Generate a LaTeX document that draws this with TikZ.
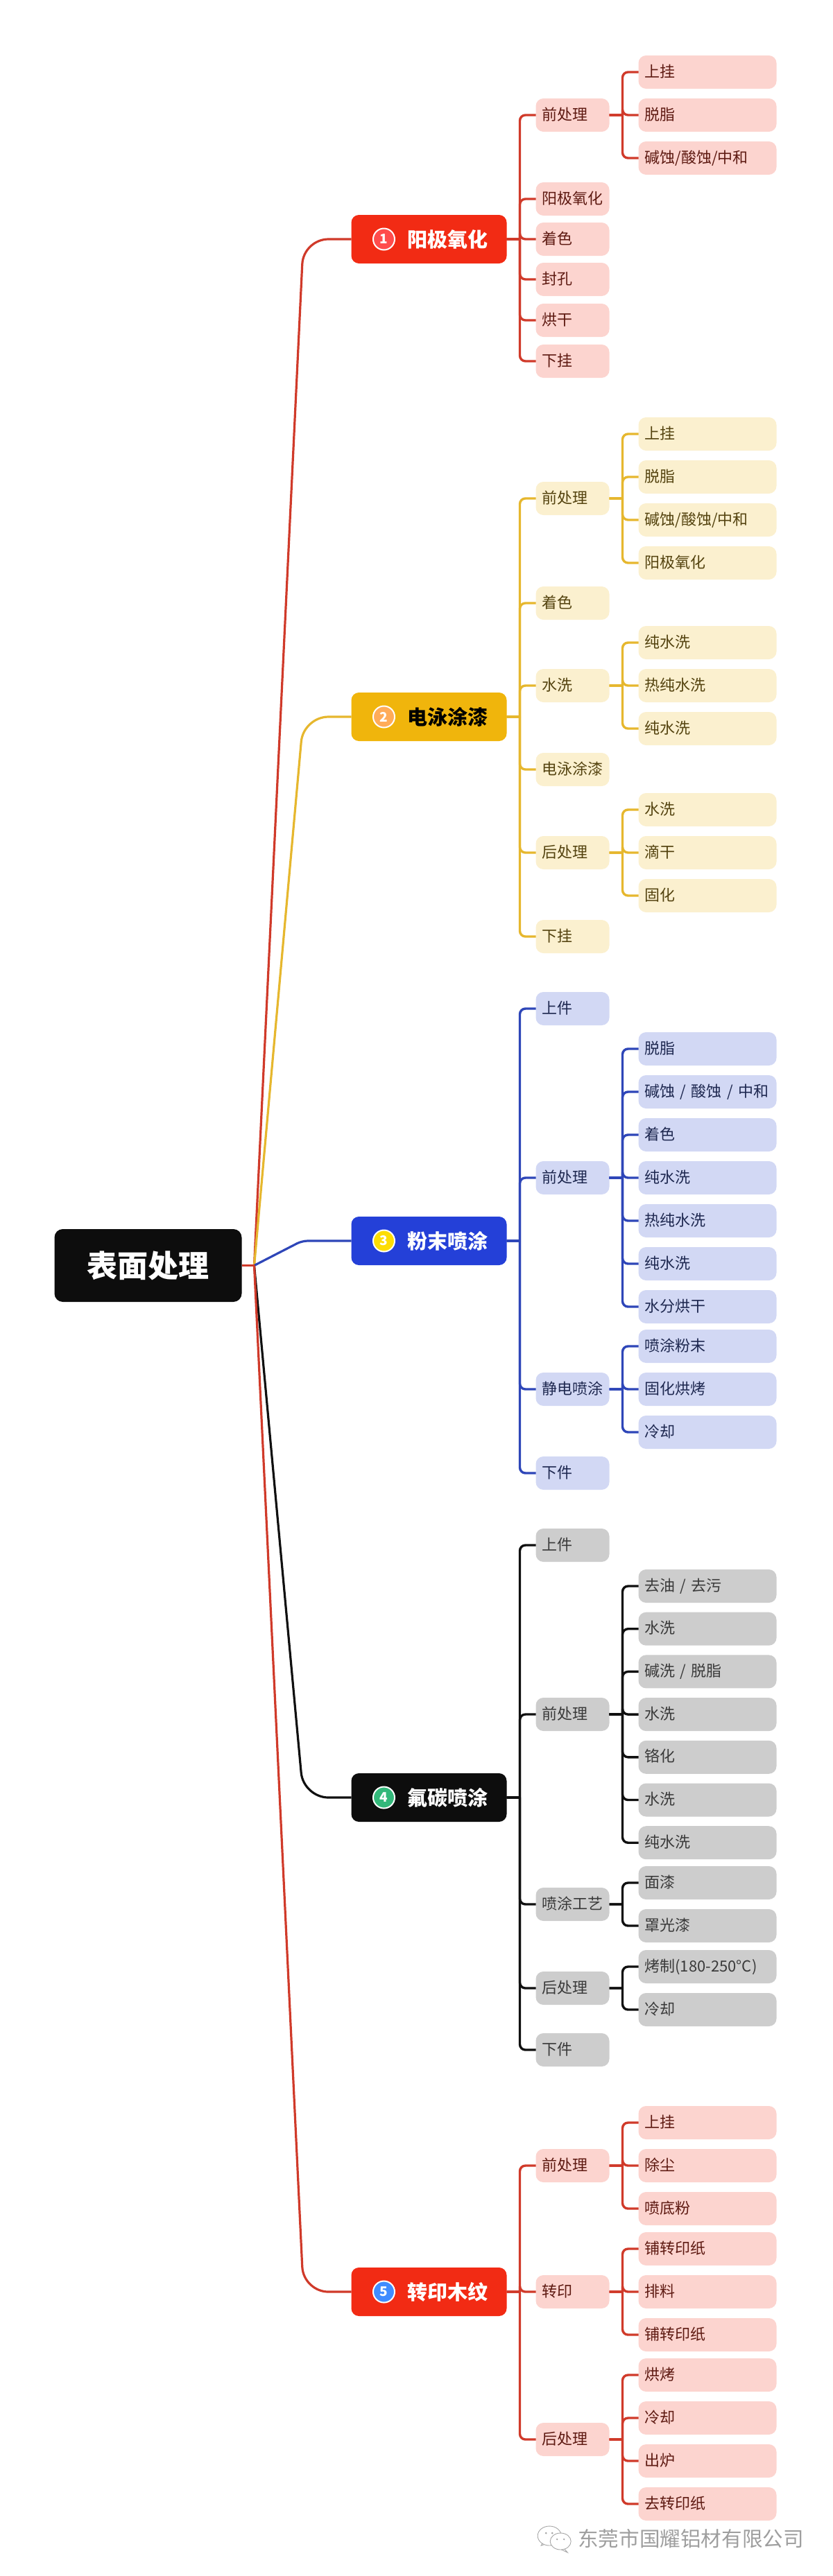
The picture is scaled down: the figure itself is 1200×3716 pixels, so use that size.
\documentclass[tikz,border=0pt]{standalone}
\usepackage{fontspec}
\usepackage{xcolor}
\usepackage{tikz}
\usetikzlibrary{positioning}
\setmainfont{Noto Sans CJK SC}

\definecolor{lineR}{HTML}{D03A2A}
\definecolor{lineY}{HTML}{E6B72E}
\definecolor{lineB}{HTML}{2E46B8}
\definecolor{lineK}{HTML}{101010}
\definecolor{headR}{HTML}{F22B14}
\definecolor{headY}{HTML}{F0B50C}
\definecolor{headB}{HTML}{2440D8}
\definecolor{headK}{HTML}{0D0D0D}
\definecolor{fillR}{HTML}{FCD4CF}
\definecolor{fillY}{HTML}{FBF0CF}
\definecolor{fillB}{HTML}{D2D8F4}
\definecolor{fillK}{HTML}{CDCDCD}
\definecolor{inkR}{HTML}{5E1A12}
\definecolor{inkY}{HTML}{54430F}
\definecolor{inkB}{HTML}{1E2850}
\definecolor{inkK}{HTML}{3A3A3A}

\begin{document}
\begin{tikzpicture}[
    x=1pt, y=1pt,
    rootbox/.style={rectangle, rounded corners=12pt, fill=headK, text=white, outer sep=0pt,
                    minimum width=270pt, minimum height=105pt, align=center, inner sep=0pt,
                    text height=39pt, text depth=5pt,
                    font=\fontsize{44pt}{50pt}\selectfont\bfseries},
    headbox/.style={rectangle, rounded corners=11pt, outer sep=0pt, inner xsep=27pt, inner ysep=0pt,
                    minimum width=224pt, minimum height=70pt, text width=170pt, align=right,
                    text height=25.5pt, text depth=3.5pt,
                    font=\fontsize{29pt}{34pt}\selectfont\bfseries},
    badge/.style={circle, draw=white, line width=2pt, minimum size=31pt, inner sep=0pt, outer sep=0pt,
                  text=white, font=\fontsize{19pt}{22pt}\selectfont\bfseries},
    procbox/.style={rectangle, rounded corners=11pt, outer sep=0pt, inner xsep=9pt, inner ysep=0pt,
                    minimum width=106pt, minimum height=48pt, text width=88pt, align=left,
                    text height=18pt, text depth=4pt,
                    font=\fontsize{22pt}{26pt}\selectfont},
    stagebox/.style={procbox, minimum width=199pt, text width=181pt},
    toneR/.style={fill=fillR, text=inkR},
    toneY/.style={fill=fillY, text=inkY},
    toneB/.style={fill=fillB, text=inkB},
    toneK/.style={fill=fillK, text=inkK},
    wire/.style={line width=3.4pt, rounded corners=8pt,
                 to path={-- ++(19pt,0) ++(0,0) |- (\tikztotarget)}},
    trunk/.style={line width=3.2pt, rounded corners=36pt},
    markbox/.style={text=black!38, inner sep=0pt, outer sep=0pt, text height=26pt, text depth=4pt,
                    font=\fontsize{29.6pt}{34pt}\selectfont},
]
    \useasboundingbox (0,0) rectangle (1200,-3716);

    % Root
    \node[rootbox] (root) at (213.5,-1825.5) {表面处理};
    \coordinate[right=18pt of root] (hub);

    % Section 1
    \node[headbox, fill=headR, text=white, right=158pt of root, yshift=1480.5pt] (br1) {阳极氧化};
    \node[badge, fill=red!70!white, right=31.5pt of br1.west] (num1) {1};
    \node[procbox, toneR, right=42pt of br1, yshift=179pt] (pre1) {前处理};
    \node[procbox, toneR, below=73pt of pre1] (ano1) {阳极氧化};
    \node[procbox, toneR, below=10pt of ano1] (dye1) {着色};
    \node[procbox, toneR, below=10pt of dye1] (seal1) {封孔};
    \node[procbox, toneR, below=11pt of seal1] (dry1) {烘干};
    \node[procbox, toneR, below=11pt of dry1] (off1) {下挂};
    \node[stagebox, toneR, right=42pt of pre1, yshift=62pt] (hang1) {上挂};
    \node[stagebox, toneR, below=14pt of hang1] (degr1) {脱脂};
    \node[stagebox, toneR, below=14pt of degr1] (etch1) {碱蚀/酸蚀/中和};

    % Section 2
    \node[headbox, fill=headY, text=black, right=158pt of root, yshift=791.5pt] (br2) {电泳涂漆};
    \node[badge, fill=orange!65!white, right=31.5pt of br2.west] (num2) {2};
    \node[procbox, toneY, right=42pt of br2, yshift=315pt] (pre2) {前处理};
    \node[procbox, toneY, below=103pt of pre2] (dye2) {着色};
    \node[procbox, toneY, below=71pt of dye2] (wash2) {水洗};
    \node[procbox, toneY, below=73pt of wash2] (coat2) {电泳涂漆};
    \node[procbox, toneY, below=72pt of coat2] (post2) {后处理};
    \node[procbox, toneY, below=73pt of post2] (off2) {下挂};
    \node[stagebox, toneY, right=42pt of pre2, yshift=93pt] (hang2) {上挂};
    \node[stagebox, toneY, below=14pt of hang2] (degr2) {脱脂};
    \node[stagebox, toneY, below=14pt of degr2] (etch2) {碱蚀/酸蚀/中和};
    \node[stagebox, toneY, below=14pt of etch2] (ano2) {阳极氧化};
    \node[stagebox, toneY, right=42pt of wash2, yshift=62pt] (pura2) {纯水洗};
    \node[stagebox, toneY, below=14pt of pura2] (hot2) {热纯水洗};
    \node[stagebox, toneY, below=14pt of hot2] (purb2) {纯水洗};
    \node[stagebox, toneY, right=42pt of post2, yshift=62pt] (rins2) {水洗};
    \node[stagebox, toneY, below=14pt of rins2] (drip2) {滴干};
    \node[stagebox, toneY, below=14pt of drip2] (cure2) {固化};

    % Section 3
    \node[headbox, fill=headB, text=white, right=158pt of root, yshift=35.5pt] (br3) {粉末喷涂};
    \node[badge, fill=yellow!80!orange, right=31.5pt of br3.west] (num3) {3};
    \node[procbox, toneB, right=42pt of br3, yshift=335pt] (on3) {上件};
    \node[procbox, toneB, below=196pt of on3] (pre3) {前处理};
    \node[procbox, toneB, below=257pt of pre3] (spray3) {静电喷涂};
    \node[procbox, toneB, below=73pt of spray3] (off3) {下件};
    \node[stagebox, toneB, right=42pt of pre3, yshift=186pt] (degr3) {脱脂};
    \node[stagebox, toneB, below=14pt of degr3] (etch3) {碱蚀~/~酸蚀~/~中和};
    \node[stagebox, toneB, below=14pt of etch3] (dye3) {着色};
    \node[stagebox, toneB, below=14pt of dye3] (pura3) {纯水洗};
    \node[stagebox, toneB, below=14pt of pura3] (hot3) {热纯水洗};
    \node[stagebox, toneB, below=14pt of hot3] (purb3) {纯水洗};
    \node[stagebox, toneB, below=14pt of purb3] (dry3) {水分烘干};
    \node[stagebox, toneB, right=42pt of spray3, yshift=62pt] (pow3) {喷涂粉末};
    \node[stagebox, toneB, below=14pt of pow3] (cure3) {固化烘烤};
    \node[stagebox, toneB, below=14pt of cure3] (cool3) {冷却};

    % Section 4
    \node[headbox, fill=headK, text=white, right=158pt of root, yshift=-767.5pt] (br4) {氟碳喷涂};
    \node[badge, fill=teal!70!green!80!white, right=31.5pt of br4.west] (num4) {4};
    \node[procbox, toneK, right=42pt of br4, yshift=364pt] (on4) {上件};
    \node[procbox, toneK, below=196pt of on4] (pre4) {前处理};
    \node[procbox, toneK, below=226pt of pre4] (spray4) {喷涂工艺};
    \node[procbox, toneK, below=73pt of spray4] (post4) {后处理};
    \node[procbox, toneK, below=41pt of post4] (off4) {下件};
    \node[stagebox, toneK, right=42pt of pre4, yshift=185pt] (oil4) {去油~/~去污};
    \node[stagebox, toneK, below=13.7pt of oil4] (wasa4) {水洗};
    \node[stagebox, toneK, below=13.7pt of wasa4] (alk4) {碱洗~/~脱脂};
    \node[stagebox, toneK, below=13.7pt of alk4] (wasb4) {水洗};
    \node[stagebox, toneK, below=13.7pt of wasb4] (chr4) {铬化};
    \node[stagebox, toneK, below=13.7pt of chr4] (wasc4) {水洗};
    \node[stagebox, toneK, below=13.7pt of wasc4] (pure4) {纯水洗};
    \node[stagebox, toneK, right=42pt of spray4, yshift=31pt] (top4) {面漆};
    \node[stagebox, toneK, below=14pt of top4] (gloss4) {罩光漆};
    \node[stagebox, toneK, right=42pt of post4, yshift=31pt] (bake4) {烤制(180-250°C)};
    \node[stagebox, toneK, below=14pt of bake4] (cool4) {冷却};

    % Section 5
    \node[headbox, fill=headR, text=white, right=158pt of root, yshift=-1480.5pt] (br5) {转印木纹};
    \node[badge, fill=blue!60!cyan!75!white, right=31.5pt of br5.west] (num5) {5};
    \node[procbox, toneR, right=42pt of br5, yshift=182pt] (pre5) {前处理};
    \node[procbox, toneR, below=134pt of pre5] (print5) {转印};
    \node[procbox, toneR, below=165pt of print5] (post5) {后处理};
    \node[stagebox, toneR, right=42pt of pre5, yshift=62pt] (hang5) {上挂};
    \node[stagebox, toneR, below=14pt of hang5] (dust5) {除尘};
    \node[stagebox, toneR, below=14pt of dust5] (prim5) {喷底粉};
    \node[stagebox, toneR, right=42pt of print5, yshift=62pt] (lay5) {铺转印纸};
    \node[stagebox, toneR, below=14pt of lay5] (sort5) {排料};
    \node[stagebox, toneR, below=14pt of sort5] (wrap5) {铺转印纸};
    \node[stagebox, toneR, right=42pt of post5, yshift=93pt] (bake5) {烘烤};
    \node[stagebox, toneR, below=14pt of bake5] (cool5) {冷却};
    \node[stagebox, toneR, below=14pt of cool5] (oven5) {出炉};
    \node[stagebox, toneR, below=14pt of oven5] (peel5) {去转印纸};

    % Watermark
    \node[markbox, below=11pt of peel5, xshift=-24pt] (mark) {东莞市国耀铝材有限公司};
    \coordinate[left=34pt of mark] (icon);
    \begin{scope}[shift={(icon)}, draw=black!35, line width=0.9pt, fill=white]
        \filldraw (-6,14) -- (-19,-10) -- (-10,-7) -- cycle;
        \filldraw (-7,4) ellipse (17pt and 14pt);
        \filldraw (13,-13) -- (19,-20) -- (6,-14) -- cycle;
        \filldraw (9,-4) ellipse (15pt and 12pt);
        \fill[black!35] (-12,8) circle (1.5pt) (-3,8) circle (1.5pt) (4,-1) circle (1.3pt) (14,-1) circle (1.3pt);
    \end{scope}

    % Trunks
    \draw[trunk, lineR] (hub) -- ([xshift=-69pt]br1.west) -- (br1.west);
    \draw[trunk, lineY] (hub) -- ([xshift=-69pt]br2.west) -- (br2.west);
    \draw[trunk, lineB, rounded corners=8pt] (hub) -- ([xshift=-71pt]br3.west) -- (br3.west);
    \draw[trunk, lineK] (hub) -- ([xshift=-69pt]br4.west) -- (br4.west);
    \draw[trunk, lineR] (hub) -- ([xshift=-69pt]br5.west) -- (br5.west);
    \draw[line width=3.4pt, lineR] (root) -- (hub);

    % Links of section 1
    \draw[wire, lineR] (br1.east) to (pre1.west);
    \draw[wire, lineR] (br1.east) to (ano1.west);
    \draw[wire, lineR] (br1.east) to (dye1.west);
    \draw[wire, lineR] (br1.east) to (seal1.west);
    \draw[wire, lineR] (br1.east) to (dry1.west);
    \draw[wire, lineR] (br1.east) to (off1.west);
    \draw[wire, lineR] (pre1.east) to (hang1.west);
    \draw[wire, lineR] (pre1.east) to (degr1.west);
    \draw[wire, lineR] (pre1.east) to (etch1.west);

    % Links of section 2
    \draw[wire, lineY] (br2.east) to (pre2.west);
    \draw[wire, lineY] (br2.east) to (dye2.west);
    \draw[wire, lineY] (br2.east) to (wash2.west);
    \draw[wire, lineY] (br2.east) to (coat2.west);
    \draw[wire, lineY] (br2.east) to (post2.west);
    \draw[wire, lineY] (br2.east) to (off2.west);
    \draw[wire, lineY] (pre2.east) to (hang2.west);
    \draw[wire, lineY] (pre2.east) to (degr2.west);
    \draw[wire, lineY] (pre2.east) to (etch2.west);
    \draw[wire, lineY] (pre2.east) to (ano2.west);
    \draw[wire, lineY] (wash2.east) to (pura2.west);
    \draw[wire, lineY] (wash2.east) to (hot2.west);
    \draw[wire, lineY] (wash2.east) to (purb2.west);
    \draw[wire, lineY] (post2.east) to (rins2.west);
    \draw[wire, lineY] (post2.east) to (drip2.west);
    \draw[wire, lineY] (post2.east) to (cure2.west);

    % Links of section 3
    \draw[wire, lineB] (br3.east) to (on3.west);
    \draw[wire, lineB] (br3.east) to (pre3.west);
    \draw[wire, lineB] (br3.east) to (spray3.west);
    \draw[wire, lineB] (br3.east) to (off3.west);
    \draw[wire, lineB] (pre3.east) to (degr3.west);
    \draw[wire, lineB] (pre3.east) to (etch3.west);
    \draw[wire, lineB] (pre3.east) to (dye3.west);
    \draw[wire, lineB] (pre3.east) to (pura3.west);
    \draw[wire, lineB] (pre3.east) to (hot3.west);
    \draw[wire, lineB] (pre3.east) to (purb3.west);
    \draw[wire, lineB] (pre3.east) to (dry3.west);
    \draw[wire, lineB] (spray3.east) to (pow3.west);
    \draw[wire, lineB] (spray3.east) to (cure3.west);
    \draw[wire, lineB] (spray3.east) to (cool3.west);

    % Links of section 4
    \draw[wire, lineK] (br4.east) to (on4.west);
    \draw[wire, lineK] (br4.east) to (pre4.west);
    \draw[wire, lineK] (br4.east) to (spray4.west);
    \draw[wire, lineK] (br4.east) to (post4.west);
    \draw[wire, lineK] (br4.east) to (off4.west);
    \draw[wire, lineK] (pre4.east) to (oil4.west);
    \draw[wire, lineK] (pre4.east) to (wasa4.west);
    \draw[wire, lineK] (pre4.east) to (alk4.west);
    \draw[wire, lineK] (pre4.east) to (wasb4.west);
    \draw[wire, lineK] (pre4.east) to (chr4.west);
    \draw[wire, lineK] (pre4.east) to (wasc4.west);
    \draw[wire, lineK] (pre4.east) to (pure4.west);
    \draw[wire, lineK] (spray4.east) to (top4.west);
    \draw[wire, lineK] (spray4.east) to (gloss4.west);
    \draw[wire, lineK] (post4.east) to (bake4.west);
    \draw[wire, lineK] (post4.east) to (cool4.west);

    % Links of section 5
    \draw[wire, lineR] (br5.east) to (pre5.west);
    \draw[wire, lineR] (br5.east) to (print5.west);
    \draw[wire, lineR] (br5.east) to (post5.west);
    \draw[wire, lineR] (pre5.east) to (hang5.west);
    \draw[wire, lineR] (pre5.east) to (dust5.west);
    \draw[wire, lineR] (pre5.east) to (prim5.west);
    \draw[wire, lineR] (print5.east) to (lay5.west);
    \draw[wire, lineR] (print5.east) to (sort5.west);
    \draw[wire, lineR] (print5.east) to (wrap5.west);
    \draw[wire, lineR] (post5.east) to (bake5.west);
    \draw[wire, lineR] (post5.east) to (cool5.west);
    \draw[wire, lineR] (post5.east) to (oven5.west);
    \draw[wire, lineR] (post5.east) to (peel5.west);
\end{tikzpicture}
\end{document}
